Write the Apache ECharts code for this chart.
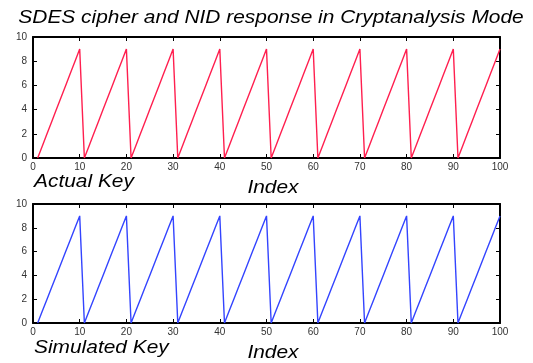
<!DOCTYPE html>
<html>
<head>
<meta charset="utf-8">
<script src="https://cdn.jsdelivr.net/npm/echarts@6/dist/echarts.min.js"></script>
<style>
  html, body { margin: 0; padding: 0; background: #fff; }
  #chart { width: 533px; height: 363px; }
</style>
</head>
<body>
<div id="chart"></div>
<script>
const indexValues = [
  1, 2, 3, 4, 5, 6, 7, 8, 9, 10,
  11, 12, 13, 14, 15, 16, 17, 18, 19, 20,
  21, 22, 23, 24, 25, 26, 27, 28, 29, 30,
  31, 32, 33, 34, 35, 36, 37, 38, 39, 40,
  41, 42, 43, 44, 45, 46, 47, 48, 49, 50,
  51, 52, 53, 54, 55, 56, 57, 58, 59, 60,
  61, 62, 63, 64, 65, 66, 67, 68, 69, 70,
  71, 72, 73, 74, 75, 76, 77, 78, 79, 80,
  81, 82, 83, 84, 85, 86, 87, 88, 89, 90,
  91, 92, 93, 94, 95, 96, 97, 98, 99, 100
]
const actualKey = [
  0, 1, 2, 3, 4, 5, 6, 7, 8, 9,
  0, 1, 2, 3, 4, 5, 6, 7, 8, 9,
  0, 1, 2, 3, 4, 5, 6, 7, 8, 9,
  0, 1, 2, 3, 4, 5, 6, 7, 8, 9,
  0, 1, 2, 3, 4, 5, 6, 7, 8, 9,
  0, 1, 2, 3, 4, 5, 6, 7, 8, 9,
  0, 1, 2, 3, 4, 5, 6, 7, 8, 9,
  0, 1, 2, 3, 4, 5, 6, 7, 8, 9,
  0, 1, 2, 3, 4, 5, 6, 7, 8, 9,
  0, 1, 2, 3, 4, 5, 6, 7, 8, 9
]
const simulatedKey = [
  0, 1, 2, 3, 4, 5, 6, 7, 8, 9,
  0, 1, 2, 3, 4, 5, 6, 7, 8, 9,
  0, 1, 2, 3, 4, 5, 6, 7, 8, 9,
  0, 1, 2, 3, 4, 5, 6, 7, 8, 9,
  0, 1, 2, 3, 4, 5, 6, 7, 8, 9,
  0, 1, 2, 3, 4, 5, 6, 7, 8, 9,
  0, 1, 2, 3, 4, 5, 6, 7, 8, 9,
  0, 1, 2, 3, 4, 5, 6, 7, 8, 9,
  0, 1, 2, 3, 4, 5, 6, 7, 8, 9,
  0, 1, 2, 3, 4, 5, 6, 7, 8, 9
]

const chart = echarts.init(document.getElementById('chart'))

const font = 'Liberation Sans, Arial, sans-serif'
const labelColor = '#333'

const makeX = (gridIndex, position, showLabel) => ({
  type: 'value',
  gridIndex: gridIndex,
  position: position,
  min: 0,
  max: 100,
  interval: 10,
  axisLine: { show: true, onZero: false, lineStyle: { color: '#000', width: 2 } },
  axisTick: { show: true, inside: true, length: 4, lineStyle: { color: '#000' } },
  axisLabel: { show: showLabel, color: labelColor, fontSize: 10, fontFamily: font, margin: 4 },
  splitLine: { show: false }
})

const makeY = (gridIndex, position, showLabel) => ({
  type: 'value',
  gridIndex: gridIndex,
  position: position,
  min: 0,
  max: 10,
  interval: 2,
  axisLine: { show: true, onZero: false, lineStyle: { color: '#000', width: 2 } },
  axisTick: { show: true, inside: true, length: 4, lineStyle: { color: '#000' } },
  axisLabel: { show: showLabel, color: labelColor, fontSize: 10, fontFamily: font, margin: 6 },
  splitLine: { show: false }
})

// italic captions, slightly stretched like the original image
const caption = (text, x, y, align) => ({
  type: 'text',
  x: x,
  y: y,
  scaleX: 1.1,
  silent: true,
  style: {
    text: text,
    fill: '#000',
    font: 'italic 19px ' + font,
    align: align,
    verticalAlign: 'middle'
  }
})

const option = {
  backgroundColor: '#fff',
  animation: false,
  graphic: [
    caption('SDES cipher and NID response in Cryptanalysis Mode', 271, 18, 'center'),
    caption('Actual Key', 34, 182, 'left'),
    caption('Index', 273, 188, 'center'),
    caption('Simulated Key', 34, 348, 'left'),
    caption('Index', 273, 353, 'center')
  ],
  grid: [
    { left: 33, top: 37, width: 467, height: 121 },
    { left: 33, top: 204, width: 467, height: 119 }
  ],
  xAxis: [
    makeX(0, 'bottom', true),
    makeX(0, 'top', false),
    makeX(1, 'bottom', true),
    makeX(1, 'top', false)
  ],
  yAxis: [
    makeY(0, 'left', true),
    makeY(0, 'right', false),
    makeY(1, 'left', true),
    makeY(1, 'right', false)
  ],
  series: [
    {
      name: 'Actual Key',
      type: 'line',
      xAxisIndex: 0,
      yAxisIndex: 0,
      showSymbol: false,
      lineStyle: { color: '#ff1f4f', width: 1.4 },
      data: indexValues.map((x, i) => [x, actualKey[i]])
    },
    {
      name: 'Simulated Key',
      type: 'line',
      xAxisIndex: 2,
      yAxisIndex: 2,
      showSymbol: false,
      lineStyle: { color: '#3344ff', width: 1.4 },
      data: indexValues.map((x, i) => [x, simulatedKey[i]])
    }
  ]
}

chart.setOption(option)
</script>
</body>
</html>
